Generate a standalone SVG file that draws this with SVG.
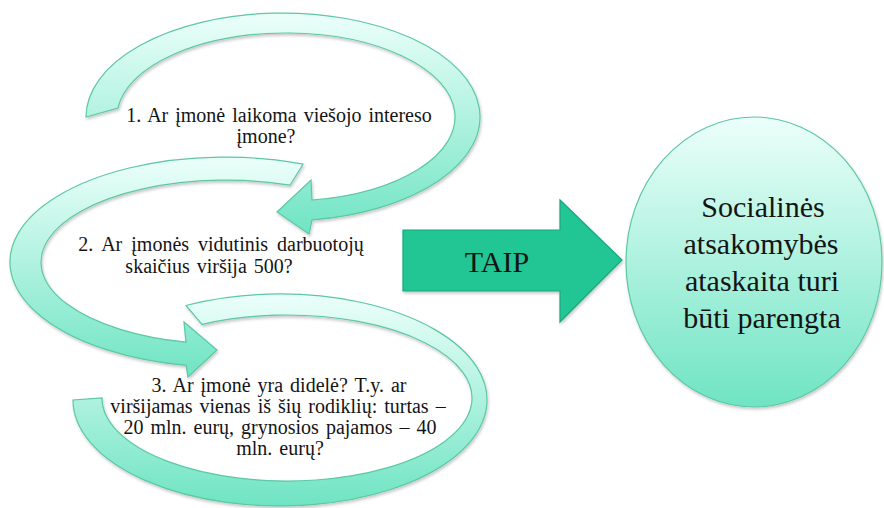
<svg xmlns="http://www.w3.org/2000/svg" width="884" height="508" viewBox="0 0 884 508">
<defs>
<linearGradient id="mint" x1="0" y1="0" x2="0" y2="1">
<stop offset="0" stop-color="#ecfffa"/>
<stop offset="1" stop-color="#6fe4c3"/>
</linearGradient>
<filter id="sh" x="-10%" y="-10%" width="120%" height="120%">
<feDropShadow dx="1" dy="2" stdDeviation="1.5" flood-color="#000" flood-opacity="0.22"/>
</filter>
<style>
.band{fill:url(#mint);stroke:#5cc8a4;stroke-width:1.2;filter:url(#sh)}
.q{font-family:"Liberation Serif","Times New Roman",serif;font-size:20px;fill:#141414;text-anchor:middle;word-spacing:2px}
.big{font-family:"Liberation Serif","Times New Roman",serif;font-size:30px;fill:#141414;text-anchor:middle}
.taip{fill:#22c594;stroke:#19a87d;stroke-width:1.2;filter:url(#sh)}
</style>
</defs>
<rect width="884" height="508" fill="#ffffff"/>
<g id="step3">
<path class="band" d="M 186 305.5 A 207 106 0 1 1 73 400 L 102 398 A 185 83 0 1 0 202 324.3 Z"/>
<text class="q"><tspan x="279" y="392">3. Ar įmonė yra didelė? T.y. ar</tspan><tspan x="278" y="413">viršijamas vienas iš šių rodiklių: turtas –</tspan><tspan x="280" y="434">20 mln. eurų, grynosios pajamos – 40</tspan><tspan x="280" y="455">mln. eurų?</tspan></text>
</g>
<g id="step2">
<path class="band" d="M 303 164.2 A 215 105 0 1 0 186 365.3 L 188 377 L 217 350 L 184 322 L 186 342.2 A 185 82 0 1 1 290 185.2 Z"/>
<text class="q"><tspan x="221" y="251" word-spacing="4">2. Ar įmonės vidutinis darbuotojų</tspan><tspan x="209" y="273">skaičius viršija 500?</tspan></text>
</g>
<g id="step1">
<path class="band" d="M 86 117 A 197 104 0 1 1 312 219.9 L 309 234 L 277 212 L 311 180 L 312 200 A 169 84 0 1 0 118 108 Z"/>
<text class="q"><tspan x="279" y="122">1. Ar įmonė laikoma viešojo intereso</tspan><tspan x="266" y="143">įmone?</tspan></text>
</g>
<g id="connectors">
<g id="taip">
<polygon class="taip" points="403,230 560,230 560,200 622,260 560,322 560,291 403,291"/>
<text class="big" x="497" y="272">TAIP</text>
</g>
</g>
<g id="result">
<ellipse class="band" cx="754" cy="262" rx="128" ry="145"/>
<text class="big"><tspan x="763" y="217">Socialinės</tspan><tspan x="761" y="254">atsakomybės</tspan><tspan x="762" y="291">ataskaita turi</tspan><tspan x="762" y="328">būti parengta</tspan></text>
</g>
</svg>
